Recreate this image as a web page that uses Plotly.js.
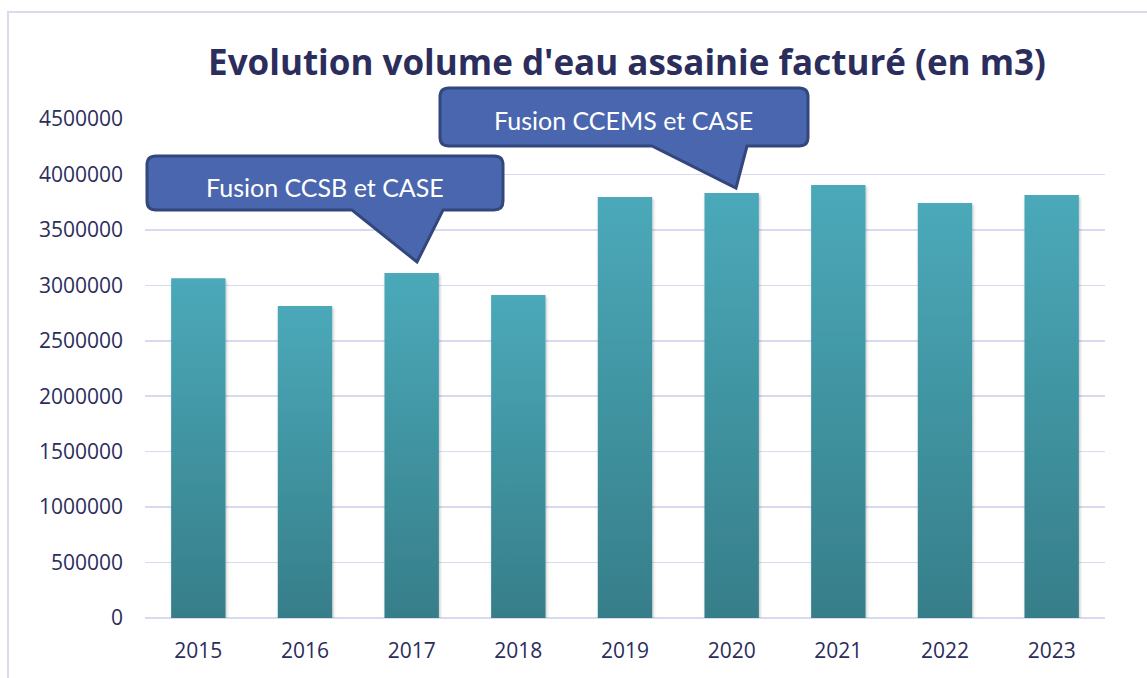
<!DOCTYPE html>
<html>
<head>
<meta charset="utf-8">
<script src="https://cdn.plot.ly/plotly-3.0.1.min.js"></script>
<style>
  html, body { margin: 0; padding: 0; background: #ffffff; }
  #chart { width: 1147px; height: 678px; }
</style>
</head>
<body>
<div id="chart"></div>
<script>
// ---- Data ----
const years = ['2015', '2016', '2017', '2018', '2019', '2020', '2021', '2022', '2023'];
const volumes = [3065000, 2814000, 3111000, 2913000, 3797000, 3833000, 3905000, 3743000, 3815000];
const yTicks = [0, 500000, 1000000, 1500000, 2000000, 2500000, 3000000, 3500000, 4000000, 4500000];
const calloutTexts = ['Fusion CCSB et CASE', 'Fusion CCEMS et CASE'];
const chartTitle = "Evolution volume d'eau assainie facturé (en m3)";

// ---- Layout helpers (pixel -> paper) ----
const W = 1147, H = 678;
const M = { l: 145, r: 42, t: 119, b: 60 };
const PW = W - M.l - M.r, PH = H - M.t - M.b;
const px = x => (x - M.l) / PW;
const py = y => (H - M.b - y) / PH;

function callout(L, R, T, B, r, bx1, bx2, tx, ty) {
  const p = (x, y) => px(x).toFixed(5) + ',' + py(y).toFixed(5);
  return 'M' + p(L + r, T) +
    ' L' + p(R - r, T) +
    ' Q' + p(R, T) + ' ' + p(R, T + r) +
    ' L' + p(R, B - r) +
    ' Q' + p(R, B) + ' ' + p(R - r, B) +
    ' L' + p(bx2, B) +
    ' L' + p(tx, ty) +
    ' L' + p(bx1, B) +
    ' L' + p(L + r, B) +
    ' Q' + p(L, B) + ' ' + p(L, B - r) +
    ' L' + p(L, T + r) +
    ' Q' + p(L, T) + ' ' + p(L + r, T) + ' Z';
}

const navy = '#2B2D5C';
const tickFont = { family: 'Open Sans, sans-serif', size: 21, color: navy };

const trace = {
  type: 'bar',
  x: years,
  y: volumes,
  marker: { color: '#4199A6', line: { width: 0 } },
  hoverinfo: 'x+y'
};

const calloutFill = '#4A66AE';
const calloutLine = '#33477C';

const layout = {
  width: W, height: H,
  margin: M,
  paper_bgcolor: '#ffffff',
  plot_bgcolor: '#ffffff',
  showlegend: false,
  bargap: 0.49,
  title: {
    text: '<b>' + chartTitle + '</b>',
    font: { family: 'Open Sans, sans-serif', size: 35, color: navy },
    xref: 'paper', x: px(627), xanchor: 'center',
    yref: 'container', y: 1 - 63 / H, yanchor: 'middle'
  },
  xaxis: {
    type: 'category',
    tickfont: tickFont,
    showgrid: false,
    showline: false,
    ticks: '',
    ticklabelstandoff: 18
  },
  yaxis: {
    range: [0, 4500000],
    tickmode: 'array',
    tickvals: yTicks,
    ticktext: yTicks.map(v => String(v)),
    tickfont: tickFont,
    showgrid: true,
    gridcolor: '#D9DAF0',
    gridwidth: 1.5,
    zeroline: true,
    zerolinecolor: '#D9DAF0',
    zerolinewidth: 1.5,
    showline: false,
    ticks: '',
    ticklabelstandoff: 21
  },
  shapes: [
    {
      type: 'rect', xref: 'paper', yref: 'paper', layer: 'below',
      x0: px(8), x1: px(1160), y0: py(700), y1: py(12),
      line: { color: '#D9DAF0', width: 2 }, fillcolor: 'rgba(0,0,0,0)'
    },
    {
      type: 'path', xref: 'paper', yref: 'paper', layer: 'above',
      path: callout(147, 503, 156, 210, 9, 352, 443, 417, 262),
      fillcolor: calloutFill, line: { color: calloutLine, width: 3 }
    },
    {
      type: 'path', xref: 'paper', yref: 'paper', layer: 'above',
      path: callout(440, 808, 88, 146, 9, 652, 747, 736, 188),
      fillcolor: calloutFill, line: { color: calloutLine, width: 3 }
    }
  ],
  annotations: [
    {
      text: calloutTexts[0], showarrow: false,
      xref: 'paper', yref: 'paper', x: px(325), y: py(187),
      xanchor: 'center', yanchor: 'middle',
      font: { family: 'Lato, sans-serif', size: 25, color: '#ffffff' }
    },
    {
      text: calloutTexts[1], showarrow: false,
      xref: 'paper', yref: 'paper', x: px(623), y: py(120),
      xanchor: 'center', yanchor: 'middle',
      font: { family: 'Lato, sans-serif', size: 25, color: '#ffffff' }
    }
  ]
};

Plotly.newPlot('chart', [trace], layout, { displayModeBar: false, staticPlot: true }).then(gd => {
  const svg = gd.querySelector('svg.main-svg');
  const NS = 'http://www.w3.org/2000/svg';
  let defs = svg.querySelector('defs');
  if (!defs) { defs = document.createElementNS(NS, 'defs'); svg.insertBefore(defs, svg.firstChild); }
  const grad = document.createElementNS(NS, 'linearGradient');
  grad.setAttribute('id', 'barGrad');
  grad.setAttribute('x1', '0'); grad.setAttribute('y1', '0');
  grad.setAttribute('x2', '0'); grad.setAttribute('y2', '1');
  [['0', '#4BA9B9'], ['1', '#367E89']].forEach(([o, c]) => {
    const s = document.createElementNS(NS, 'stop');
    s.setAttribute('offset', o); s.setAttribute('stop-color', c);
    grad.appendChild(s);
  });
  defs.appendChild(grad);
  const filt = document.createElementNS(NS, 'filter');
  filt.setAttribute('id', 'barShadow');
  filt.setAttribute('x', '-20%'); filt.setAttribute('y', '-5%');
  filt.setAttribute('width', '140%'); filt.setAttribute('height', '110%');
  const ds = document.createElementNS(NS, 'feDropShadow');
  ds.setAttribute('dx', '1'); ds.setAttribute('dy', '2');
  ds.setAttribute('stdDeviation', '1.5');
  ds.setAttribute('flood-color', '#000000'); ds.setAttribute('flood-opacity', '0.25');
  filt.appendChild(ds);
  defs.appendChild(filt);
  gd.querySelectorAll('.barlayer .point path').forEach(p => {
    p.style.fill = 'url(#barGrad)';
    p.setAttribute('filter', 'url(#barShadow)');
  });
});
</script>
</body>
</html>
